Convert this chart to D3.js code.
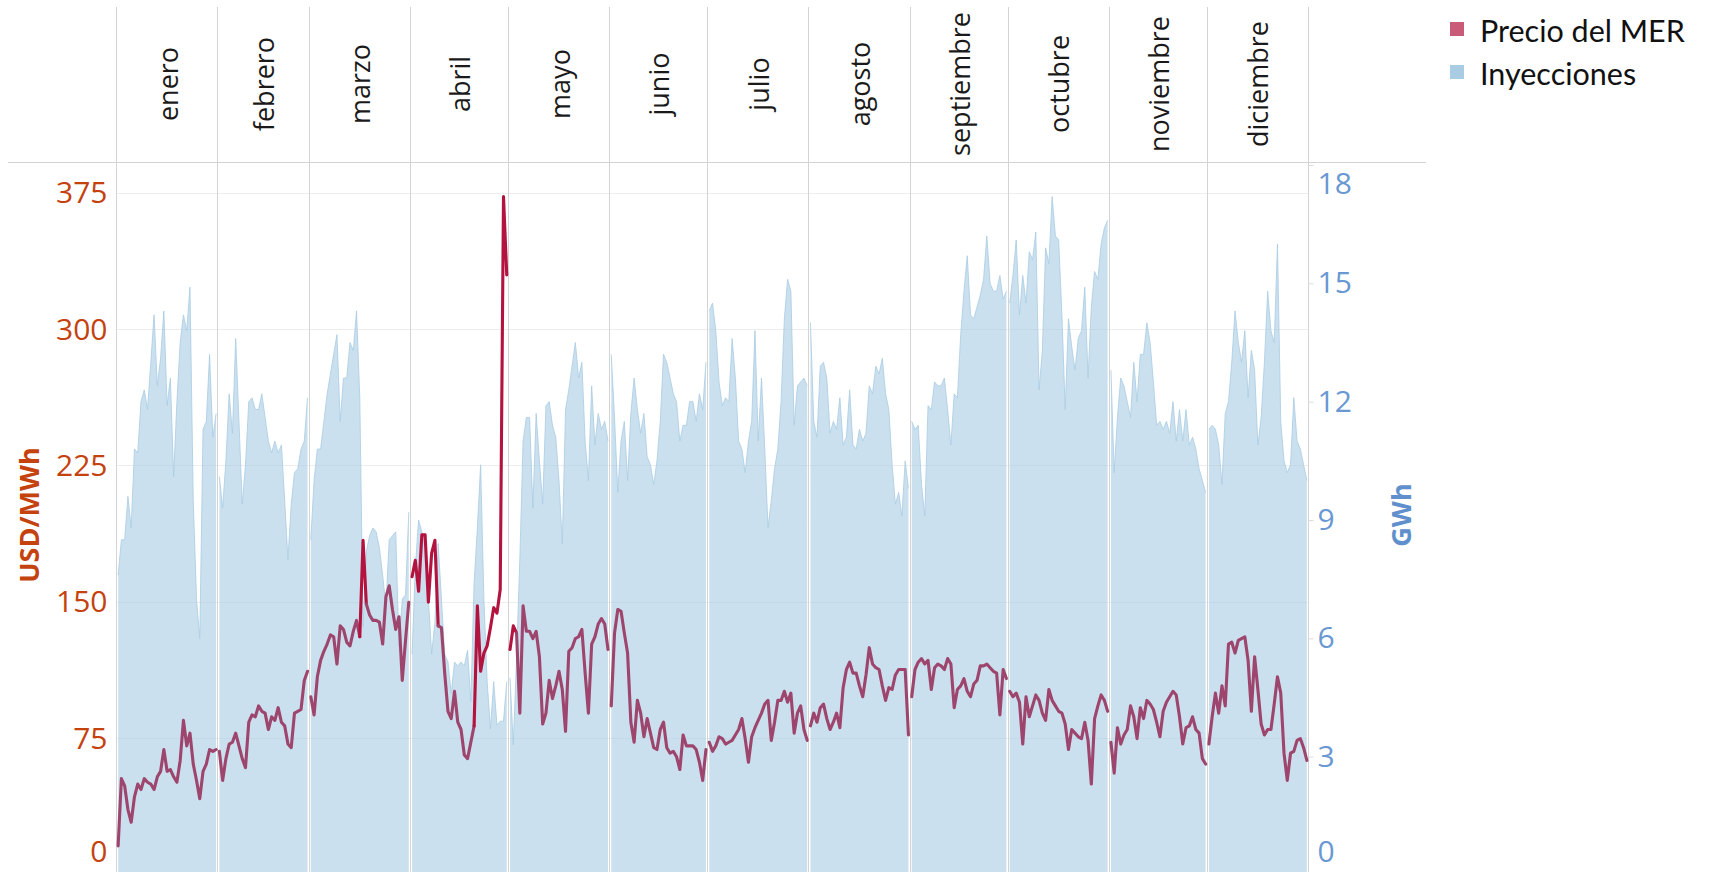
<!DOCTYPE html>
<html>
<head>
<meta charset="utf-8">
<script src="https://cdn.jsdelivr.net/npm/d3@7"></script>
<style>
  body { margin: 0; background: #fff; }
  svg { display: block; font-family: "Open Sans", sans-serif; }
</style>
</head>
<body>
<div id="chart"></div>
<script>
// month headers and days per month (2023)
var months = ["enero", "febrero", "marzo", "abril", "mayo", "junio", "julio",
  "agosto", "septiembre", "octubre", "noviembre", "diciembre"];
var monthDays = [31, 28, 31, 30, 31, 30, 31, 31, 30, 31, 30, 31];

// daily MER price, USD/MWh
var precio = [
  16, 53, 49, 36, 29, 43, 50, 47, 53, 51, 50, 47, 54, 57, 69, 57, 58, 54, 51, 63, 85, 71, 78, 61, 52, 42, 57, 61, 69, 68, 69,
  68, 52, 64, 72, 73, 78, 71, 64, 59, 84, 88, 87, 93, 90, 89, 80, 87, 85, 92, 84, 82, 72, 70, 89, 90, 91, 107, 112,
  98, 88, 109, 118, 123, 127, 132, 131, 116, 137, 135, 128, 126, 134, 140, 131, 184, 149, 143, 140, 140, 139, 127, 153, 159, 146, 135, 142, 107, 129, 150,
  164, 173, 156, 187, 187, 150, 177, 184, 137, 136, 111, 90, 86, 101, 84, 80, 66, 64, 73, 82, 148, 112, 122, 126, 136, 147, 144, 157, 373, 330,
  124, 137, 133, 89, 148, 134, 134, 130, 134, 120, 83, 89, 107, 97, 104, 112, 102, 79, 123, 125, 130, 131, 135, 111, 89, 127, 131, 138, 141, 138, 124,
  93, 133, 146, 145, 133, 122, 84, 73, 96, 89, 76, 86, 78, 70, 69, 80, 84, 70, 67, 68, 65, 58, 77, 71, 71, 71, 69, 62, 52, 69,
  73, 68, 71, 76, 75, 72, 73, 74, 77, 80, 86, 75, 62, 76, 81, 85, 89, 94, 96, 74, 84, 96, 96, 101, 95, 100, 78, 89, 93, 80, 74,
  82, 89, 84, 92, 94, 86, 80, 84, 89, 81, 103, 113, 117, 111, 111, 104, 98, 110, 125, 116, 114, 113, 104, 96, 103, 102, 110, 113, 113, 113, 77,
  98, 113, 117, 119, 116, 118, 102, 114, 116, 115, 113, 119, 116, 92, 102, 104, 108, 101, 98, 105, 107, 115, 115, 116, 114, 112, 111, 88, 113, 108,
  101, 98, 100, 95, 72, 98, 87, 93, 99, 96, 89, 85, 102, 96, 93, 90, 89, 83, 69, 80, 78, 76, 75, 84, 74, 50, 86, 93, 99, 96, 90,
  73, 56, 81, 72, 77, 80, 93, 87, 75, 92, 86, 96, 94, 91, 84, 76, 90, 95, 98, 101, 99, 87, 72, 81, 82, 87, 80, 78, 64, 61,
  72, 87, 100, 89, 104, 93, 127, 128, 122, 129, 130, 131, 118, 90, 120, 102, 83, 77, 80, 80, 94, 109, 100, 67, 52, 67, 68, 74, 75, 70, 63
];

// daily injections, GWh
var inyecciones = [
  7.6, 8.5, 8.5, 9.6, 8.8, 10.8, 10.7, 12.0, 12.3, 11.8, 13.0, 14.2, 12.4, 13.1, 14.3, 11.9, 12.6, 10.1, 12.0, 13.5, 14.2, 13.8, 14.9, 9.5, 7.0, 6.0, 11.3, 11.5, 13.2, 11.1, 11.7,
  10.1, 9.3, 10.5, 12.2, 11.2, 13.6, 11.5, 9.4, 10.4, 12.0, 12.1, 11.8, 11.8, 12.2, 11.6, 11.0, 10.7, 11.0, 10.7, 10.9, 9.5, 8.0, 9.4, 10.2, 10.3, 10.8, 11.0, 12.1,
  8.5, 10.0, 10.8, 10.8, 11.5, 12.2, 12.7, 13.2, 13.7, 11.5, 12.6, 12.6, 13.5, 13.3, 14.3, 12.1, 6.3, 8.2, 8.6, 8.8, 8.7, 8.3, 7.6, 6.8, 8.5, 8.6, 8.7, 5.8, 7.0, 7.1, 9.2,
  5.6, 7.8, 9.0, 8.7, 8.4, 7.0, 5.6, 6.4, 8.4, 7.0, 5.6, 5.4, 4.6, 5.4, 5.3, 5.4, 5.3, 5.7, 4.4, 7.4, 8.8, 10.4, 7.0, 4.9, 3.7, 4.9, 3.8, 3.9, 3.9, 4.9,
  5.0, 3.3, 5.5, 8.0, 11.0, 11.6, 11.6, 9.3, 11.7, 10.5, 9.4, 11.9, 12.0, 11.4, 11.1, 10.0, 8.4, 11.8, 12.3, 12.9, 13.5, 12.6, 13.0, 11.0, 10.0, 12.4, 10.9, 11.7, 11.3, 11.5, 11.0,
  13.2, 11.6, 9.7, 11.0, 11.5, 10.0, 11.7, 12.6, 11.8, 11.2, 11.7, 10.6, 10.4, 9.9, 10.5, 11.5, 13.2, 13.0, 12.6, 12.2, 12.0, 11.0, 11.4, 11.4, 12.0, 12.0, 11.5, 12.2, 11.8, 13.0,
  14.3, 14.5, 13.8, 12.5, 11.9, 12.1, 12.0, 13.6, 12.6, 11.0, 10.8, 10.2, 11.0, 11.5, 13.8, 11.0, 12.6, 10.8, 8.8, 9.5, 10.3, 10.8, 12.0, 14.1, 15.1, 14.8, 11.4, 12.4, 12.5, 12.6, 12.4,
  14.0, 11.5, 11.1, 12.9, 13.0, 12.6, 11.2, 11.5, 11.3, 12.1, 10.9, 11.1, 12.3, 10.9, 10.8, 11.3, 11.0, 11.2, 12.4, 12.2, 12.9, 12.7, 13.1, 12.2, 11.8, 10.4, 9.4, 9.7, 9.1, 10.5, 9.8,
  11.5, 11.3, 11.4, 9.9, 9.1, 11.9, 11.8, 12.5, 12.4, 12.4, 12.6, 11.8, 10.9, 12.2, 12.1, 13.7, 14.8, 15.7, 14.2, 14.1, 14.4, 14.7, 15.1, 16.2, 15.0, 14.8, 14.8, 15.2, 14.6, 14.8,
  14.5, 15.2, 16.1, 14.2, 15.2, 14.5, 15.8, 15.6, 16.3, 12.3, 13.3, 15.9, 15.5, 17.2, 16.2, 16.1, 14.2, 11.8, 14.1, 13.4, 12.8, 13.6, 13.8, 14.9, 12.6, 14.4, 15.3, 15.1, 16.0, 16.4, 16.6,
  12.8, 10.2, 11.6, 12.6, 12.4, 12.0, 11.6, 13.0, 12.0, 13.2, 13.2, 14.0, 13.5, 12.5, 11.4, 11.5, 11.3, 11.5, 11.2, 12.0, 11.0, 11.8, 11.0, 11.8, 10.9, 11.1, 10.8, 10.3, 10.0, 9.7,
  11.3, 11.4, 11.3, 10.9, 9.9, 11.7, 12.0, 13.0, 14.3, 13.5, 13.0, 13.8, 12.1, 13.3, 12.8, 10.9, 11.6, 13.0, 14.8, 13.8, 13.5, 16.0, 11.5, 10.5, 10.2, 10.4, 12.1, 11.0, 10.8, 10.4, 10.0
];

// day ranges (0-based) where the price line is drawn in the bright red shade
var redRanges = [[75, 75], [90, 97], [110, 121]];

var priceTicks = [0, 75, 150, 225, 300, 375];
var gwhTicks = [0, 3, 6, 9, 12, 15, 18];

var svgWidth = 1713;
var svgHeight = 872;

var plot = { left: 116.5, right: 1308.5, top: 162, bottom: 875 };

var svg = d3.select("#chart")
  .append("svg")
  .attr("width", svgWidth)
  .attr("height", svgHeight);

// scales
var xScale = d3.scaleLinear().domain([0, 365]).range([plot.left, plot.right]);
var yPrice = d3.scaleLinear().domain([0, 375]).range([plot.bottom, 193]);
var yGwh = d3.scaleLinear().domain([0, 18]).range([plot.bottom, 165]);

var monthStarts = [];
var acc = 0;
monthDays.forEach(function(n) { monthStarts.push(acc); acc += n; });

function crisp(v) { return Math.round(v - 0.5) + 0.5; }

// horizontal gridlines for the price axis
svg.append("g")
  .selectAll("line")
  .data(priceTicks.filter(function(t) { return t > 0; }))
  .enter()
  .append("line")
  .attr("x1", plot.left)
  .attr("x2", plot.right)
  .attr("y1", d => crisp(yPrice(d)))
  .attr("y2", d => crisp(yPrice(d)))
  .attr("stroke", "#ededed")
  .attr("stroke-width", 1);

// injections area, one pane per month
var areaGen = d3.area()
  .x(d => xScale(d + 0.5))
  .y0(plot.bottom)
  .y1(d => yGwh(inyecciones[d]));

var topGen = d3.line()
  .x(d => xScale(d + 0.5))
  .y(d => yGwh(inyecciones[d]));

var areaGroup = svg.append("g");
monthStarts.forEach(function(start, m) {
  var days = d3.range(start, start + monthDays[m]);
  areaGroup.append("path")
    .attr("d", areaGen(days))
    .attr("fill", "#a9cce3")
    .attr("fill-opacity", 0.6);
  areaGroup.append("path")
    .attr("d", topGen(days))
    .attr("fill", "none")
    .attr("stroke", "#a9cce3")
    .attr("stroke-opacity", 0.8)
    .attr("stroke-width", 1);
});

// month separators and borders
var sepX = monthStarts.concat([365]);
svg.append("g")
  .selectAll("line")
  .data(sepX)
  .enter()
  .append("line")
  .attr("x1", d => crisp(xScale(d)))
  .attr("x2", d => crisp(xScale(d)))
  .attr("y1", 7)
  .attr("y2", svgHeight)
  .attr("stroke", "#d4d4d4")
  .attr("stroke-width", 1);

// header bottom rule
svg.append("line")
  .attr("x1", 8)
  .attr("x2", 1426)
  .attr("y1", plot.top + 0.5)
  .attr("y2", plot.top + 0.5)
  .attr("stroke", "#d4d4d4")
  .attr("stroke-width", 1);

// month headers
svg.append("g")
  .selectAll("text")
  .data(months)
  .enter()
  .append("text")
  .attr("transform", function(d, i) {
    var cx = xScale(monthStarts[i] + monthDays[i] / 2);
    return "translate(" + cx + ",84) rotate(-90)";
  })
  .attr("text-anchor", "middle")
  .attr("dominant-baseline", "central")
  .attr("font-size", 27)
  .attr("fill", "#1a1a1a")
  .text(d => d);

// price line, broken at month boundaries, coloured in runs
function isRed(i) {
  return redRanges.some(function(r) { return i >= r[0] && i <= r[1]; });
}

var runs = [];
monthStarts.forEach(function(start, m) {
  var end = start + monthDays[m] - 1;
  var run = null;
  for (var i = start; i < end; i++) {
    var col = (isRed(i) || isRed(i + 1)) ? "#b3133f" : "#9e456d";
    if (!run || run.color !== col) {
      run = { color: col, pts: [i] };
      runs.push(run);
    }
    run.pts.push(i + 1);
  }
});

var priceLine = d3.line()
  .x(d => xScale(d + 0.5))
  .y(d => yPrice(precio[d]));

svg.append("g")
  .selectAll("path")
  .data(runs)
  .enter()
  .append("path")
  .attr("d", d => priceLine(d.pts))
  .attr("fill", "none")
  .attr("stroke", d => d.color)
  .attr("stroke-width", 3.1)
  .attr("stroke-linejoin", "round")
  .attr("stroke-linecap", "round");

// left axis (price)
var leftAxis = svg.append("g")
  .attr("transform", "translate(" + plot.left + ",0)")
  .call(d3.axisLeft(yPrice).tickValues(priceTicks).tickSize(0).tickPadding(9));
leftAxis.select(".domain").remove();
leftAxis.selectAll("text")
  .attr("font-size", 30)
  .attr("font-family", "Open Sans, sans-serif")
  .attr("fill", "#c4420e")
  .attr("transform", d => d === 0 ? "translate(0,-23)" : null);

// right axis (GWh)
var rightAxis = svg.append("g")
  .attr("transform", "translate(" + plot.right + ",0)")
  .call(d3.axisRight(yGwh).tickValues(gwhTicks).tickSize(5).tickPadding(4));
rightAxis.select(".domain").remove();
rightAxis.selectAll("line").attr("stroke", "#dcdcdc");
rightAxis.selectAll("text")
  .attr("font-size", 30)
  .attr("font-family", "Open Sans, sans-serif")
  .attr("fill", "#6a98d2")
  .attr("transform", function(d) {
    if (d === 0) return "translate(0,-23)";
    if (d === 18) return "translate(0,19)";
    return null;
  });

// axis titles
svg.append("text")
  .attr("transform", "translate(28,515) rotate(-90)")
  .attr("text-anchor", "middle")
  .attr("dominant-baseline", "central")
  .attr("font-size", 27)
  .attr("font-weight", "bold")
  .attr("fill", "#c4420e")
  .text("USD/MWh");

svg.append("text")
  .attr("transform", "translate(1400,515) rotate(-90)")
  .attr("text-anchor", "middle")
  .attr("dominant-baseline", "central")
  .attr("font-size", 27)
  .attr("font-weight", "bold")
  .attr("fill", "#5f8fcc")
  .text("GWh");

// legend
var legendItems = [
  { label: "Precio del MER", color: "#c95a78" },
  { label: "Inyecciones", color: "#a9cce3" }
];
var legend = svg.append("g");
legendItems.forEach(function(item, i) {
  legend.append("rect")
    .attr("x", 1450)
    .attr("y", 22 + i * 43)
    .attr("width", 14)
    .attr("height", 14)
    .attr("fill", item.color);
  legend.append("text")
    .attr("x", 1480)
    .attr("y", 30 + i * 43)
    .attr("dominant-baseline", "central")
    .attr("font-size", 30.5)
    .attr("font-family", "Lato, sans-serif")
    .attr("fill", "#111")
    .text(item.label);
});
</script>
</body>
</html>
